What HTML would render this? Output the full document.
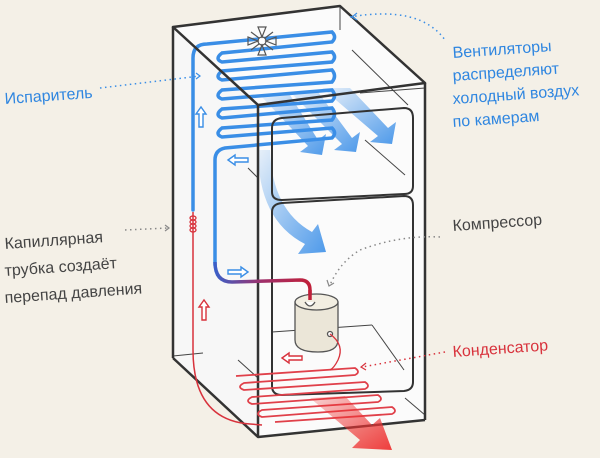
<!DOCTYPE html>
<html><head><meta charset="utf-8"><style>
html,body{margin:0;padding:0;background:#f4f0e7;}
svg{display:block}
text{font-family:"Liberation Sans","DejaVu Sans",sans-serif;font-size:16px;}
</style></head><body>
<svg width="600" height="458" viewBox="0 0 600 458">
<defs>
<linearGradient id="bl" x1="0" y1="0" x2="1" y2="1"><stop offset="0" stop-color="#3b8fe8" stop-opacity="0.1"/><stop offset="1" stop-color="#3b8fe8" stop-opacity="0.9"/></linearGradient>
<linearGradient id="rd" x1="0" y1="0" x2="1" y2="1"><stop offset="0" stop-color="#e33" stop-opacity="0.2"/><stop offset="1" stop-color="#e33" stop-opacity="0.95"/></linearGradient>
<linearGradient id="pipe" x1="0" y1="0" x2="1" y2="0"><stop offset="0" stop-color="#3b5fc8"/><stop offset="0.5" stop-color="#a0306a"/><stop offset="1" stop-color="#c0203a"/></linearGradient>
</defs>
<polygon points="173,27 340,6 425,83 425,420 258,437 173,358" fill="#fbfbfb"/>
<polygon points="173,27 258,105 258,437 173,358" fill="#f7f7f7"/>
<g stroke="#444" stroke-width="1" fill="none">
<line x1="340" y1="6" x2="340" y2="30"/>
<line x1="352" y1="50" x2="408" y2="105"/>
<line x1="360" y1="93" x2="425" y2="88"/>
<line x1="365" y1="140" x2="405" y2="175"/>
<line x1="248" y1="168" x2="258" y2="178"/>
<line x1="173" y1="356" x2="203" y2="353"/>
<line x1="238" y1="360" x2="258" y2="378"/>
<line x1="272" y1="332" x2="372" y2="325"/>
<line x1="372" y1="325" x2="404" y2="370"/>
<line x1="405" y1="398" x2="425" y2="415"/>
</g>
<g stroke="#3a8ee6" stroke-width="3.5" fill="none" stroke-linecap="round">
<path d="M193,210 L193,58 Q193,44 207,44 L332,32 Q337,37 332,42 L222,53 Q214,59 222,62 L332,52 Q337,57 332,62 L222,71 Q214,77 222,80 L332,70 Q337,76 332,82 L222,90 Q214,96 222,99 L332,90 Q337,96 332,101 L222,109 Q214,115 222,118 L332,108 Q337,114 332,120 L222,128 Q214,134 222,137 L332,128 Q337,133 332,138 L225,148 Q215,150 215,160 L215,265"/>
</g>
<g stroke="#555" stroke-width="1.2" fill="#fff">
<circle cx="262" cy="41" r="4"/>
<path d="M262,37 l-4,-10 h8 z M262,45 l-4,10 h8 z M258,41 l-10,-4 v8 z M266,41 l10,-4 v8 z M259,38 l-8,-6 M265,38 l8,-6 M259,44 l-8,6 M265,44 l8,6" fill="none"/>
</g>
<g fill="url(#bl)">
<polygon points="260,95 290,95 318,140 326,134 322,155 300,152 308,146"/>
<polygon points="290,92 318,92 352,138 360,132 356,152 334,150 342,144"/>
<polygon points="322,88 350,88 388,128 396,122 392,144 370,142 378,136"/>
<path d="M258,150 L270,150 Q272,210 312,232 L318,224 L326,252 L298,254 L305,244 Q258,220 258,150 Z"/>
</g>
<g stroke="#333" stroke-width="2" fill="none">
<path d="M282,118 L404,108 Q413,108 413,118 L413,186 Q413,194 404,194 L282,200 Q272,200 272,192 L272,128 Q272,119 282,118 Z"/>
<path d="M282,203 L404,196 Q413,196 413,205 L413,382 Q413,390 404,391 L282,395 Q272,395 272,386 L272,212 Q272,204 282,203 Z"/>
</g>
<g stroke="#333" stroke-width="2.5" fill="none" stroke-linejoin="round">
<polygon points="173,27 340,6 425,83 258,105"/>
<line x1="173" y1="27" x2="173" y2="358"/>
<line x1="258" y1="105" x2="258" y2="437"/>
<line x1="425" y1="83" x2="425" y2="420"/>
<polyline points="173,358 258,437 425,420"/>
</g>
<path d="M215,262 Q215,282 232,282 L300,280 Q310,280 310,290 L310,298" stroke="url(#pipe)" stroke-width="3.5" fill="none"/>
<path d="M193,212 L193,350 Q193,420 250,424 L262,425" stroke="#d8323c" stroke-width="1.5" fill="none"/>
<g stroke="#d8323c" stroke-width="1.3" fill="none"><ellipse cx="193" cy="218" rx="3" ry="2"/><ellipse cx="193" cy="222" rx="3" ry="2"/><ellipse cx="193" cy="226" rx="3" ry="2"/><ellipse cx="193" cy="230" rx="3" ry="2"/></g>
<path d="M236,376 L355,368 Q361,372 355,375 L244,383 Q236,387 244,390 L365,382 Q371,386 365,389 L252,397 Q244,401 252,404 L378,395 Q384,399 378,402 L262,410 Q254,414 262,417 L392,407 Q398,411 392,414 L275,422" stroke="#e0404a" stroke-width="1.8" fill="none"/>
<polygon points="310,398 345,396 372,425 380,418 392,450 352,448 360,440" fill="url(#rd)"/>
<g stroke="#555" stroke-width="1.3">
<path d="M295,302 L295,340 Q295,352 318,352 Q338,352 338,340 L338,302 Z" fill="#ebe6d8"/>
<ellipse cx="316.5" cy="302" rx="21.5" ry="8" fill="#f2eee2"/>
<path d="M305,302 Q310,310 315,302" fill="#fff"/>
<circle cx="330" cy="334" r="2.5" fill="#fff"/>
</g>
<path d="M330,334 Q345,345 338,360 Q334,368 330,370" stroke="#d8323c" stroke-width="1.3" fill="none"/>
<line x1="310" y1="290" x2="310" y2="300" stroke="#c0203a" stroke-width="3.5"/>
<g fill="#fff" stroke-width="1.4">
<path d="M196,114 l5,-7 5,7 h-3 v13 h-4 v-13 z" stroke="#3a8ee6"/>
<path d="M228,160 l7,-5 v3 h13 v4 h-13 v3 z" stroke="#3a8ee6"/>
<path d="M248,272 l-7,-5 v3 h-13 v4 h13 v3 z" stroke="#3a8ee6"/>
<path d="M199,307 l5,-7 5,7 h-3 v13 h-4 v-13 z" stroke="#d8323c"/>
<path d="M282,358 l7,-5 v3 h13 v4 h-13 v3 z" stroke="#d8323c"/>
</g>
<g fill="none" stroke-width="1.5" stroke-dasharray="1.5 3.5">
<path d="M100,88 L200,76" stroke="#3a8ee6"/>
<path d="M350,17 Q420,5 445,40" stroke="#3a8ee6"/>
<path d="M125,230 L168,228" stroke="#888"/>
<path d="M440,237 Q400,235 360,250 Q340,262 330,285" stroke="#888"/>
<path d="M445,352 L362,367" stroke="#d8323c"/>
</g>
<g fill="none" stroke-width="1.2">
<path d="M196,73 l4,3 -4,3" stroke="#3a8ee6"/>
<path d="M357,13 l-5,4 5,3" stroke="#3a8ee6"/>
<path d="M165,225 l4,3 -4,3" stroke="#888"/>
<path d="M327,280 l2,6 5,-3" stroke="#888"/>
<path d="M366,363 l-5,4 5,3" stroke="#d8323c"/>
</g>
<text x="5" y="104" fill="#2f86e0" transform="rotate(-4 5 104)">Испаритель</text>
<text x="453" y="58" fill="#2f86e0" transform="rotate(-4 453 58)">Вентиляторы</text>
<text x="453" y="81" fill="#2f86e0" transform="rotate(-4 453 81)">распределяют</text>
<text x="453" y="104" fill="#2f86e0" transform="rotate(-4 453 104)">холодный воздух</text>
<text x="453" y="127" fill="#2f86e0" transform="rotate(-4 453 127)">по камерам</text>
<text x="453" y="231" fill="#444" transform="rotate(-4 453 231)">Компрессор</text>
<text x="453" y="357" fill="#d8323c" transform="rotate(-4 453 357)">Конденсатор</text>
<text x="5" y="249" fill="#444" transform="rotate(-4 5 249)">Капиллярная</text>
<text x="5" y="276" fill="#444" transform="rotate(-4 5 276)">трубка создаёт</text>
<text x="5" y="303" fill="#444" transform="rotate(-4 5 303)">перепад давления</text>
</svg>
</body></html>
